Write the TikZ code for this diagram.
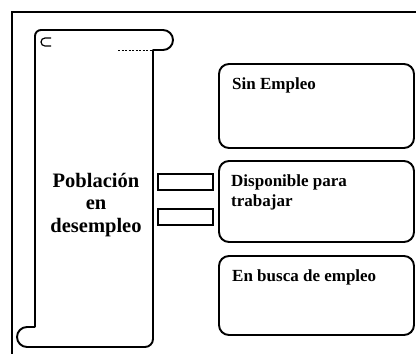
\documentclass[tikz,border=0pt]{standalone}
\usepackage{fontspec}
\newfontfamily\boxfont{Liberation Serif}
\begin{document}
\begin{tikzpicture}[x=1pt,y=-1pt,
  outline/.style={line width=1.9pt, draw=black},
  roundbox/.style={outline, rounded corners=10pt},
  smallrect/.style={outline, line width=1.6pt},
  lbl/.style={font=\boxfont\bfseries\fontsize{17}{20}\selectfont, anchor=west, align=left, inner sep=0pt},
  mainlbl/.style={font=\boxfont\bfseries\fontsize{20.5}{22.5}\selectfont, align=center, inner sep=0pt}]
\useasboundingbox (0,0) rectangle (416,354);
% outer frame (partial)
\draw[line width=1.8pt] (12,354) -- (12,12) -- (416,12);
% scroll
\draw[outline, line join=round]
  (35,327) -- (35,36) arc[start angle=-180, end angle=-90, radius=6] -- (163,30)
  arc[start angle=-90, end angle=90, radius=10] -- (153,50) -- (153,339)
  arc[start angle=0, end angle=90, radius=8] -- (27,347)
  arc[start angle=90, end angle=270, radius=10] -- (35,327);
\draw[line width=0.7pt, dash pattern=on 2pt off 1.5pt] (118,50) -- (153,50);
\draw[line width=1.2pt] (51,38) -- (45,38) arc[start angle=-90, end angle=-270, radius=4] -- (51,46);
\node[mainlbl] (pob) at (96,205) {Población\\en\\desempleo};
% small rectangles
\draw[smallrect] (158,174) rectangle (213,190);
\draw[smallrect] (158,209) rectangle (213,225);
% right boxes
\draw[roundbox] (219,64) rectangle (414,148);
\draw[roundbox] (219,161) rectangle (414,242);
\draw[roundbox] (219,256) rectangle (414,335);
\node[lbl] (sin) at (232,85) {Sin Empleo};
\node[lbl] (disp) at (231,192) {Disponible para\\trabajar};
\node[lbl] (busca) at (232,277) {En busca de empleo};
\end{tikzpicture}
\end{document}
